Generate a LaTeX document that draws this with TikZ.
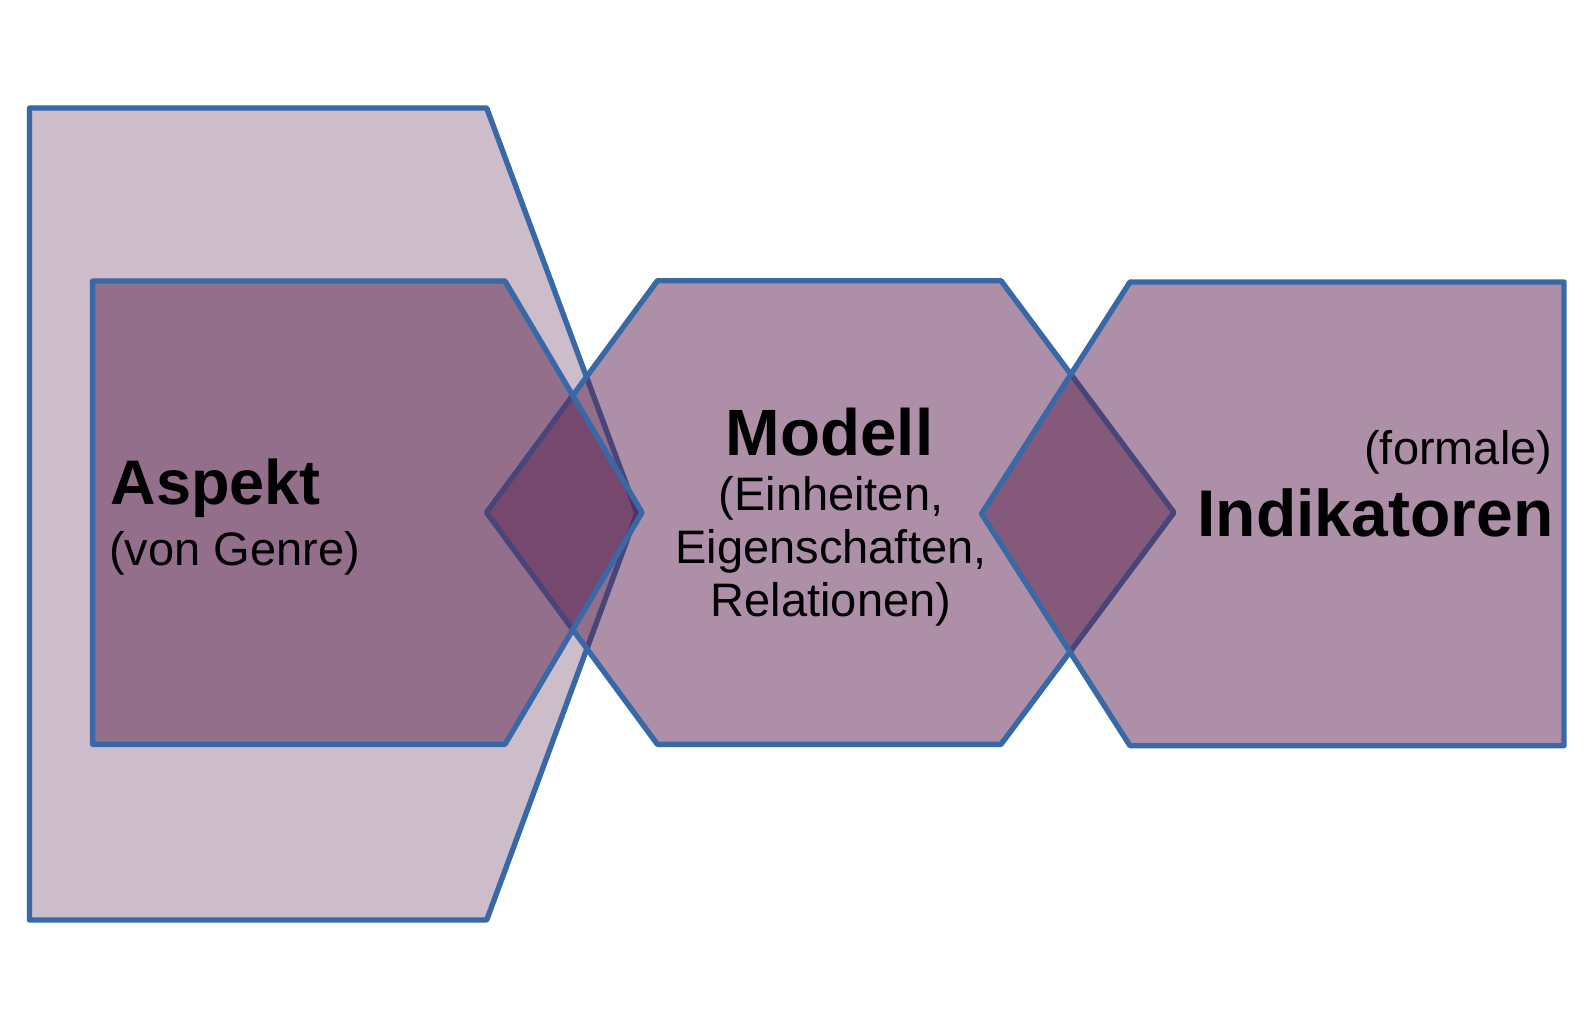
\documentclass[tikz,border=0pt]{standalone}
\usepackage{fontspec}
\setmainfont{Liberation Sans}
\definecolor{shapefill}{RGB}{91,34,79}
\definecolor{shapeline}{RGB}{56,104,166}
\tikzset{
  outerbox/.style={fill=shapefill, fill opacity=0.3, draw=shapeline, draw opacity=1, line width=5.4pt, line join=round},
  innerbox/.style={fill=shapefill, fill opacity=0.5, draw=shapeline, draw opacity=1, line width=5.4pt, line join=round},
  boldlabel/.style={inner sep=0pt, text=black, font=\bfseries},
  plainlabel/.style={inner sep=0pt, text=black}
}
\begin{document}
\begin{tikzpicture}[x=1pt,y=-1pt]
\useasboundingbox (0,0) rectangle (1585,1021);
% big outer pentagon
\path[outerbox] (29.5,108) -- (486.7,108) -- (637,513) -- (486.7,920) -- (29.5,920) -- cycle;
% Modell hexagon
\path[innerbox] (657.4,280.7) -- (1001,280.7) -- (1174,512.5) -- (1001,744.3) -- (657.4,744.3) -- (486.5,512.5) -- cycle;
% Aspekt pentagon
\path[innerbox] (92.6,281) -- (505,281) -- (642,512.5) -- (505,744.3) -- (92.6,744.3) -- cycle;
% Indikatoren shape
\path[innerbox] (1130,282) -- (1564,282) -- (1564,745.7) -- (1130,745.7) -- (981.5,513.8) -- cycle;
% texts
\node[boldlabel, anchor=base west] (aspekt) at (110.5,504) {\fontsize{63}{72}\selectfont Aspekt};
\node[plainlabel, anchor=base west] (genre) at (109,565) {\fontsize{47}{54}\selectfont (von Genre)};
\node[boldlabel, anchor=base] (modell) at (829.5,455) {\fontsize{65.5}{74}\selectfont Modell};
\node[plainlabel, anchor=base] (einheiten) at (831,510) {\fontsize{47}{54}\selectfont (Einheiten,};
\node[plainlabel, anchor=base] (eigenschaften) at (831,563.3) {\fontsize{47}{54}\selectfont Eigenschaften,};
\node[plainlabel, anchor=base] (relationen) at (831,616.7) {\fontsize{47}{54}\selectfont Relationen)};
\node[plainlabel, anchor=base east] (formale) at (1552.5,464) {\fontsize{47}{54}\selectfont (formale)};
\node[boldlabel, anchor=base east] (indikatoren) at (1553.5,536) {\fontsize{66}{75}\selectfont Indikatoren};
\end{tikzpicture}
\end{document}
